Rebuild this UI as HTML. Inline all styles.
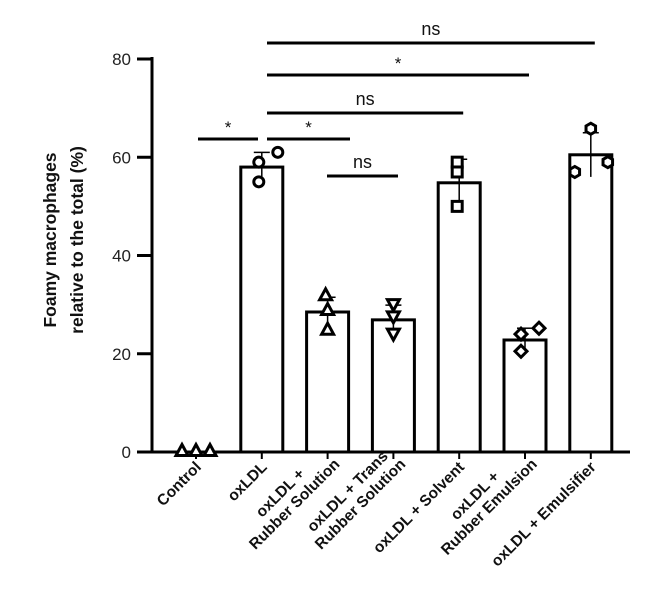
<!DOCTYPE html>
<html><head><meta charset="utf-8"><style>
html,body{margin:0;padding:0;background:#fff;}
svg{display:block;font-family:"Liberation Sans",sans-serif;}
</style></head><body>
<svg id="chart" width="670" height="591" viewBox="0 0 670 591"></svg>
<script>
const categories=["Control","oxLDL","oxLDL + |Rubber Solution","oxLDL + Trans|Rubber Solution","oxLDL + Solvent","oxLDL + |Rubber Emulsion","oxLDL + Emulsifier"];
const means=[0.3,58,28.5,26.9,54.8,22.8,60.5];
const sds=[0.2,3,3,3,4.8,2.4,4.5];
const points=[[0.3,0.3,0.3],[59,55,61],[32,29,25],[30,27.5,24],[59,57,50],[24,25.2,20.5],[57,65.8,59]];
const jitter=[[-14,0,14],[-3,-3,16],[-2,0,0],[0,0,0],[-2,-2,-2],[-4,14,-4],[-16,0,17]];
const markers=["triangle","circle","triangle","tridown","square","diamond","hex"];
const yTicks=[0,20,40,60,80];
const sigBars=[{a:0,b:1,label:"*",y:139},{a:1,b:2,label:"*",y:139},{a:2,b:3,label:"ns",y:176},{a:1,b:4,label:"ns",y:113},{a:1,b:5,label:"*",y:75},{a:1,b:6,label:"ns",y:43}];

const svg=document.getElementById('chart');
const NS="http://www.w3.org/2000/svg";
const X0=196,DX=65.8,Y0=452,PXU=(452-59)/80,BW=42;
const xs=i=>X0+i*DX;
const ys=v=>Y0-v*PXU;
function mk(t,a,p){const e=document.createElementNS(NS,t);for(const k in a)e.setAttribute(k,a[k]);(p||svg).appendChild(e);return e;}

let ax=mk('line',{x1:152,y1:57,x2:152,y2:453,stroke:'#000','stroke-width':3});


let xa=mk('line',{x1:150,y1:452,x2:630,y2:452,stroke:'#000','stroke-width':3});


yTicks.forEach(t=>{
  let l=mk('line',{x1:137,y1:ys(t),x2:152,y2:ys(t),stroke:'#000','stroke-width':3});
  
  
  let tx=mk('text',{x:131,y:ys(t)+6,'text-anchor':'end','font-size':17,fill:'#222'});tx.textContent=t;
  
  
});
let tg=mk('text',{transform:'translate(56,240) rotate(-90)','text-anchor':'middle','font-size':17.5,'font-weight':'bold',fill:'#111'});


let t1=mk('tspan',{x:0,y:0},tg);t1.textContent='Foamy macrophages';
let t2=mk('tspan',{x:0,y:27},tg);t2.textContent='relative to the total (%)';

function marker(type,cx,cy){
  const s=6;let e;const st={fill:'#fff',stroke:'#000','stroke-width':3};
  if(type==='circle')e=mk('circle',Object.assign({cx,cy,r:5},st));
  else if(type==='square')e=mk('rect',Object.assign({x:cx-5,y:cy-5,width:10,height:10},st));
  else if(type==='triangle')e=mk('polygon',Object.assign({points:`${cx},${cy-s} ${cx-s},${cy+s-1} ${cx+s},${cy+s-1}`},st));
  else if(type==='tridown')e=mk('polygon',Object.assign({points:`${cx},${cy+s} ${cx-s},${cy-s+1} ${cx+s},${cy-s+1}`},st));
  else if(type==='diamond')e=mk('polygon',Object.assign({points:`${cx},${cy-s} ${cx+s},${cy} ${cx},${cy+s} ${cx-s},${cy}`},st));
  else {let p=[];for(let k=0;k<6;k++){const a=Math.PI/3*k+Math.PI/6;p.push((cx+5.5*Math.cos(a))+','+(cy+5.5*Math.sin(a)));}e=mk('polygon',Object.assign({points:p.join(' ')},st));}
  return e;
}

categories.forEach((c,i)=>{
  const cx=xs(i);
  if(i>0){
    let b=mk('rect',{x:cx-BW/2,y:ys(means[i]),width:BW,height:Y0-ys(means[i]),fill:'#fff',stroke:'#000','stroke-width':3});
    
    
    let e=mk('line',{x1:cx,y1:ys(means[i]+sds[i]),x2:cx,y2:ys(means[i]-sds[i]),stroke:'#000','stroke-width':1.5});
    
    
    let ec=mk('line',{x1:cx-8,y1:ys(means[i]+sds[i]),x2:cx+8,y2:ys(means[i]+sds[i]),stroke:'#000','stroke-width':1.5});
    
    
  }
  let tk=mk('line',{x1:cx,y1:452,x2:cx,y2:459,stroke:'#000','stroke-width':2});
  
  
  points[i].forEach((v,j)=>{
    let m=marker(markers[i],cx+jitter[i][j],ys(v));
    
    
  });
  const lines=c.split('|');
  const multi=lines.length>1;
  let g=mk('text',{transform:`translate(${cx+(multi?13:6)},${multi?465:468}) rotate(-45)`,'text-anchor':'end','font-size':15.5,'font-weight':'bold',fill:'#111'});
  
  
  const spans=lines.map((ln,k)=>{let t=mk('tspan',{x:0,y:(k-(lines.length-1))*18},g);t.textContent=ln;return t;});
  if(multi){
    const ws=spans.map(s=>s.getComputedTextLength());
    const mw=Math.max(...ws);
    spans.forEach((s,k)=>s.setAttribute('x',-(mw-ws[k])/2));
  }
});

sigBars.forEach(s=>{
  let xa1=s.a===0?198:(s.a===2?327:267);
  let xb=s.a===0?258:(s.b===2?350:s.b===3?398:xs(s.b)+4);
  let l=mk('line',{x1:xa1,y1:s.y,x2:xb,y2:s.y,stroke:'#000','stroke-width':3});
  
  
  let t=mk('text',{x:(xa1+xb)/2,y:s.label==='*'?s.y-6:s.y-8,'text-anchor':'middle','font-size':s.label==='*'?17:18,fill:'#111'});
  t.textContent=s.label;
  
  
});
</script>
</body></html>
